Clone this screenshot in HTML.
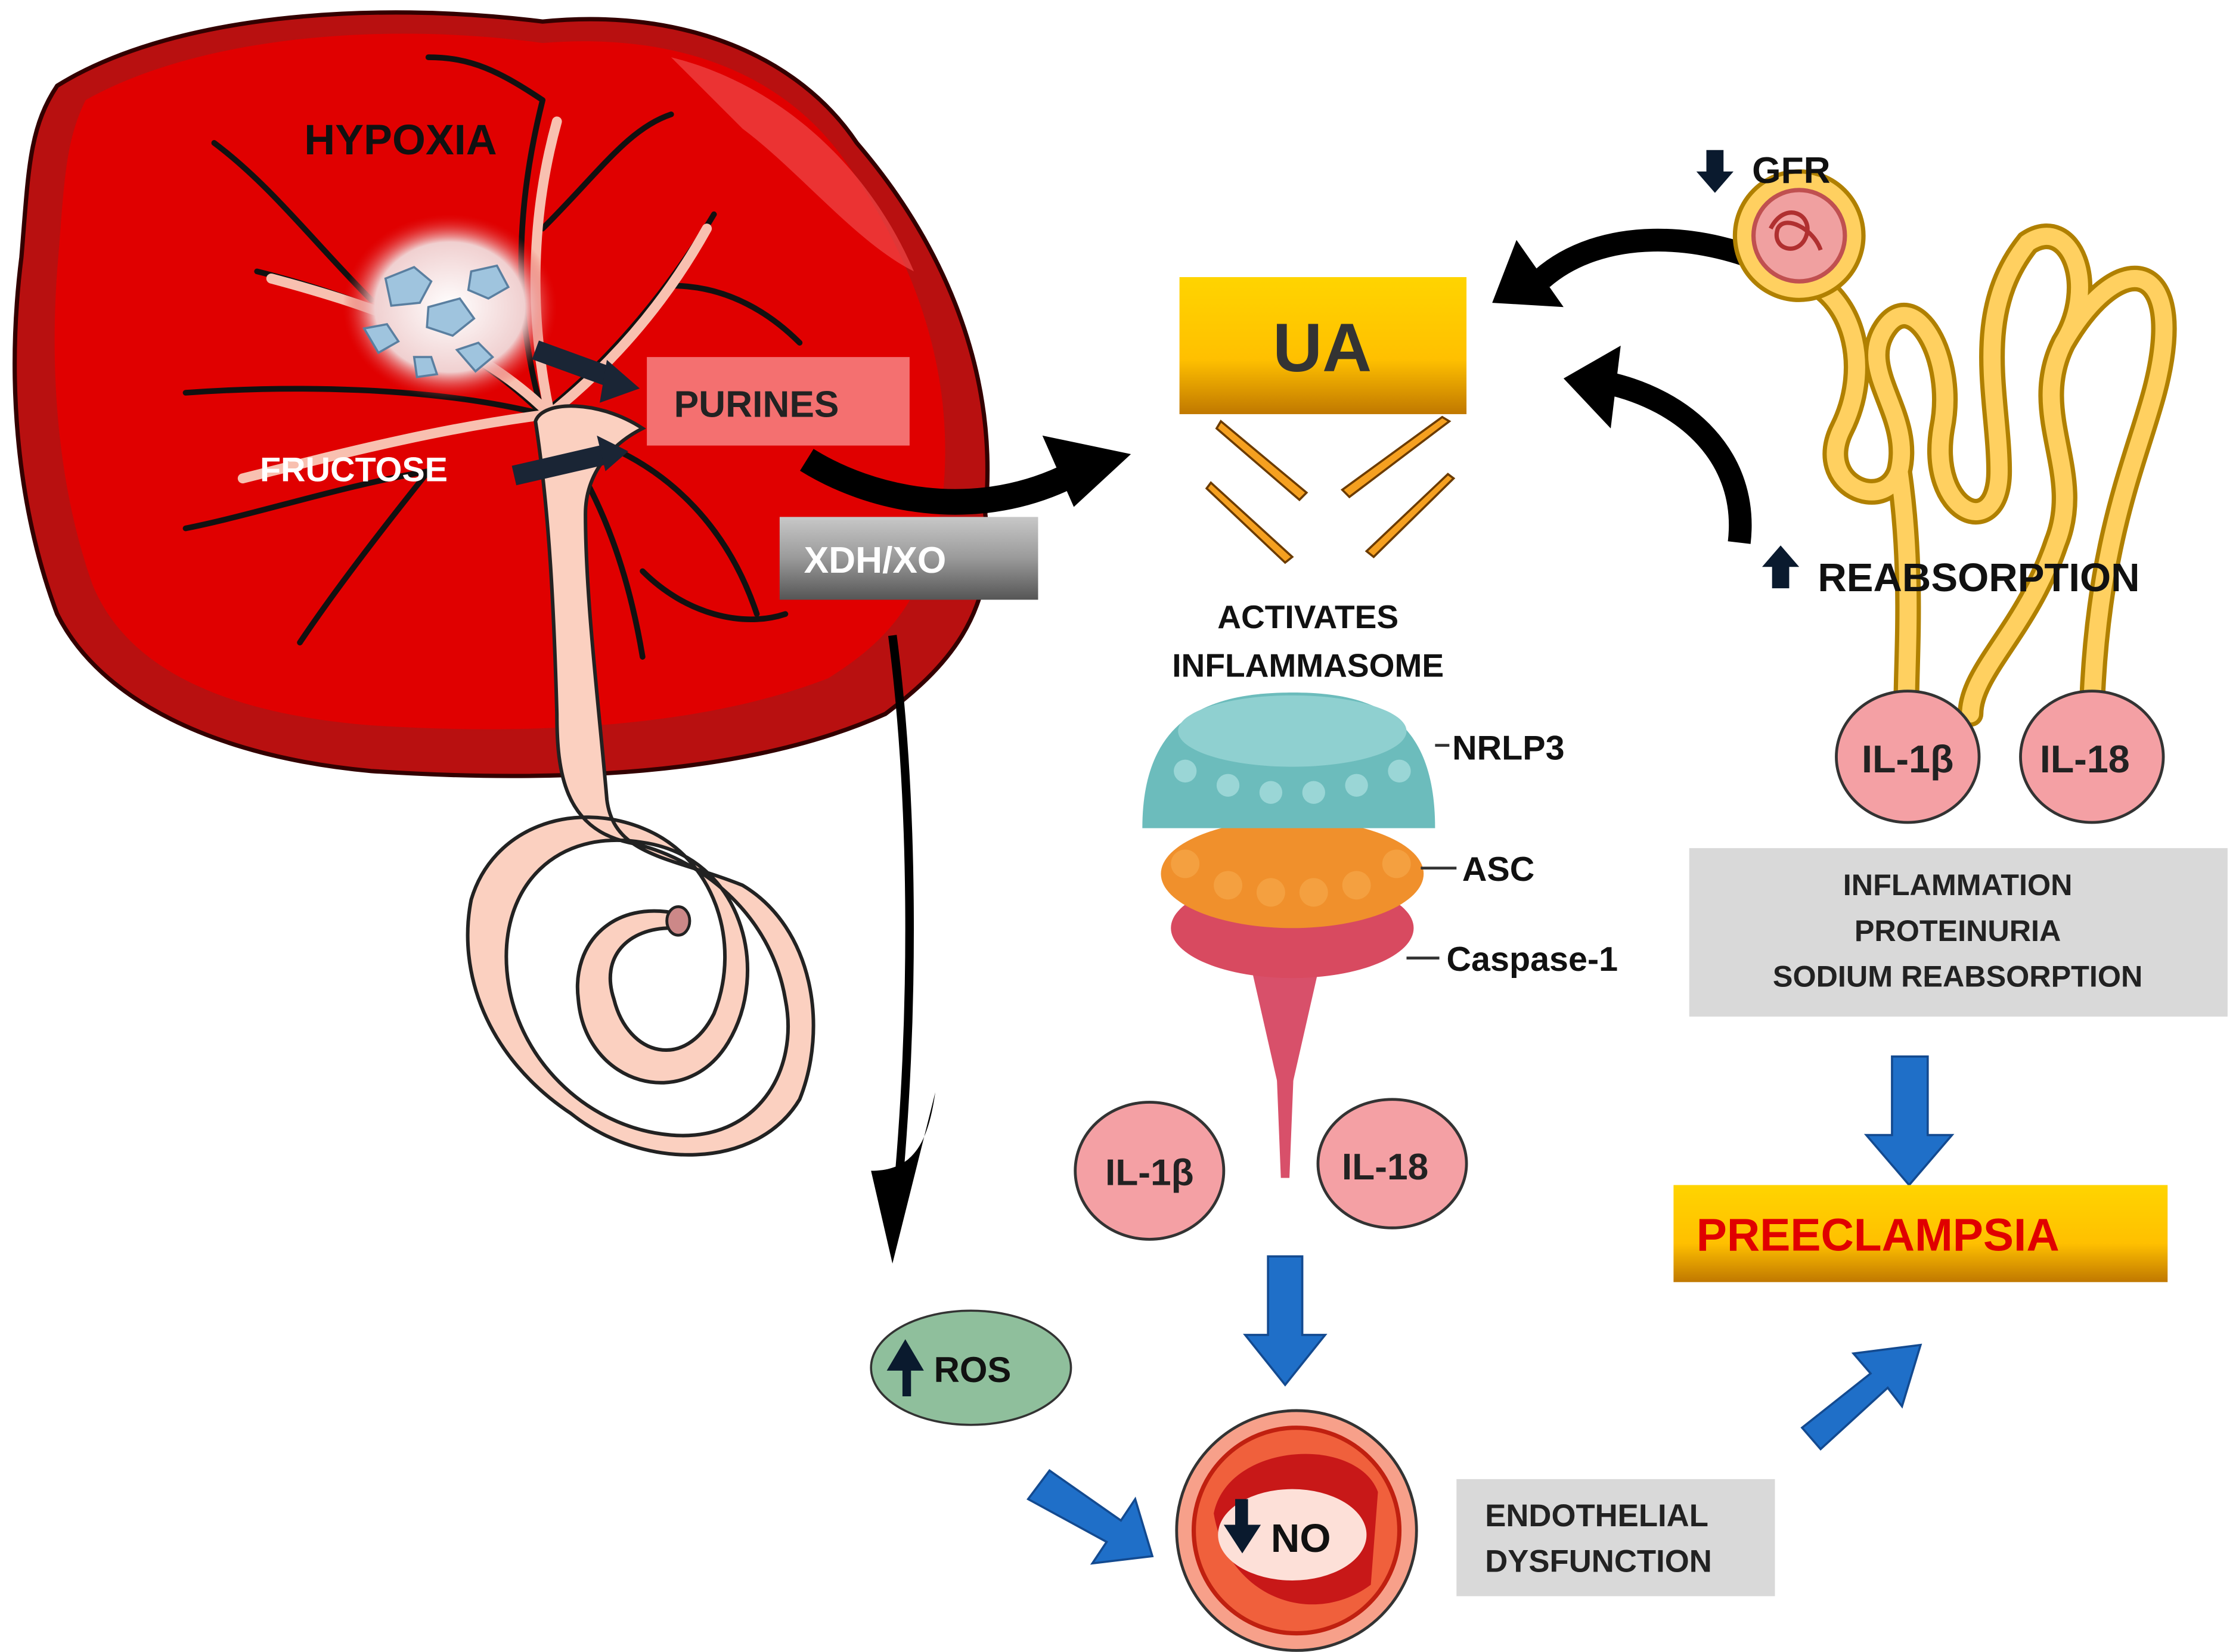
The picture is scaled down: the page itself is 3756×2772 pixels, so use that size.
<!DOCTYPE html>
<html><head><meta charset="utf-8"><style>
html,body{margin:0;padding:0;background:#fff;}
svg{display:block;}
text{font-family:"Liberation Sans",sans-serif;font-weight:bold;}
</style></head><body>
<svg width="3756" height="2772" viewBox="0 0 1568 1157" xmlns="http://www.w3.org/2000/svg">
<defs>
<linearGradient id="gy" x1="0" y1="0" x2="0" y2="1"><stop offset="0" stop-color="#ffd400"/><stop offset="0.6" stop-color="#ffc000"/><stop offset="1" stop-color="#c07800"/></linearGradient>
<linearGradient id="gg" x1="0" y1="0" x2="0" y2="1"><stop offset="0" stop-color="#c8c8c8"/><stop offset="0.5" stop-color="#9a9a9a"/><stop offset="1" stop-color="#555"/></linearGradient>
<radialGradient id="cl" cx="0.5" cy="0.5" r="0.5"><stop offset="0" stop-color="#fff"/><stop offset="0.7" stop-color="#f0d0d0"/><stop offset="1" stop-color="#e02020" stop-opacity="0"/></radialGradient>
<marker id="ah" markerWidth="4" markerHeight="4" refX="2" refY="2" orient="auto"><path d="M0,0 L4,2 L0,4 z" fill="#000"/></marker>
</defs>
<rect width="1568" height="1157" fill="#fff"/>
<!-- placenta -->
<path d="M40,60 C120,10 260,0 380,15 C480,5 560,40 600,100 C660,170 700,260 690,360 C700,430 660,470 620,500 C520,545 380,548 260,540 C150,530 70,490 40,430 C10,350 5,260 15,180 C20,120 20,90 40,60 Z" fill="#b81010" stroke="#300" stroke-width="3"/>
<path d="M60,70 C140,25 270,15 380,30 C480,22 550,55 590,110 C640,180 670,260 660,350 C650,420 620,450 580,475 C490,510 370,515 260,508 C160,500 90,470 65,410 C40,340 35,260 40,190 C45,130 45,100 60,70 Z" fill="#e00000"/>
<path d="M470,40 C550,60 610,120 640,190 C600,170 560,120 520,90 Z" fill="#f04848" opacity="0.7"/>
<!-- veins -->
<g stroke="#111" stroke-width="4" fill="none" stroke-linecap="round">
<path d="M380,290 C330,240 260,210 180,190 M260,210 C220,170 190,130 150,100 M380,290 C360,220 360,150 380,70 M380,160 C420,120 440,90 470,80 M380,290 C430,250 470,200 500,150 M470,200 C510,200 540,220 560,240 M380,290 C300,270 200,270 130,275 M300,330 C240,340 180,360 130,370 M380,290 C420,340 440,400 450,460 M450,400 C480,430 520,440 550,430 M420,310 C470,330 510,370 530,430 M300,330 C260,380 230,420 210,450 M380,70 C350,50 330,40 300,40"/>
</g>
<g stroke="#f8c0b0" stroke-width="7" fill="none" stroke-linecap="round">
<path d="M385,290 C335,240 265,215 190,195 M385,290 C370,220 372,150 390,85 M385,290 C435,250 470,205 495,160 M385,290 C305,300 230,320 170,335"/>
</g>
<ellipse cx="315" cy="215" rx="75" ry="65" fill="url(#cl)"/>
<g fill="#9fc4de" stroke="#5a7fa0" stroke-width="1.5">
<path d="M270,195 l20,-8 l12,10 l-8,15 l-20,2 z"/><path d="M300,215 l22,-6 l10,14 l-15,12 l-18,-6 z"/><path d="M330,190 l18,-4 l8,15 l-14,8 l-14,-6 z"/><path d="M255,230 l16,-3 l8,12 l-14,8 z"/><path d="M320,245 l15,-5 l10,10 l-12,10 z"/><path d="M290,250 l12,0 l4,12 l-14,2 z"/>
</g>
<!-- cord -->
<path d="M375,295 C380,280 420,280 450,300 C430,310 410,330 410,360 C410,420 420,500 425,560 C430,600 470,600 520,620 C570,650 580,720 560,770 C530,820 450,820 400,780 C340,740 320,680 330,630 C345,580 400,560 450,580 C500,600 520,660 500,710 C480,750 440,740 430,700 C420,670 440,650 470,650 L475,640 C430,630 400,660 405,700 C410,760 480,780 510,730 C540,680 520,600 450,590 C390,580 350,620 355,680 C360,740 410,790 470,795 C530,800 560,750 550,700 C540,640 490,600 440,590 C395,580 390,540 390,500 C388,430 385,360 375,295 Z" fill="#fbd0c0" stroke="#222" stroke-width="2.5"/>
<ellipse cx="475" cy="645" rx="8" ry="10" fill="#c88" stroke="#222" stroke-width="2"/>
<!-- small black arrows in placenta -->
<path d="M375,245 L430,265" stroke="#1a2535" stroke-width="14"/><path d="M425,252 L448,272 L420,282 z" fill="#1a2535"/>
<path d="M360,333 L425,318" stroke="#1a2535" stroke-width="14"/><path d="M418,305 L440,316 L424,330 z" fill="#1a2535"/>
<text x="213" y="108" font-size="30" fill="#111">HYPOXIA</text>
<rect x="453" y="250" width="184" height="62" fill="#f47070"/>
<text x="472" y="292" font-size="26" fill="#222">PURINES</text>
<text x="182" y="337" font-size="24" fill="#fff">FRUCTOSE</text>
<rect x="546" y="362" width="181" height="58" fill="url(#gg)"/>
<text x="563" y="401" font-size="26" fill="#fff">XDH/XO</text>
<!-- big black arrows -->
<path d="M565,322 C610,350 680,365 745,335" stroke="#000" stroke-width="18" fill="none"/>
<path d="M730,305 L792,318 L752,355 z" fill="#000"/>
<path d="M625,445 C640,560 640,700 630,820" stroke="#000" stroke-width="6" fill="none"/>
<path d="M610,820 L625,885 L655,765 C650,800 640,820 610,820 z" fill="#000"/>
<path d="M1250,190 C1190,160 1120,160 1080,195" stroke="#000" stroke-width="16" fill="none"/>
<path d="M1045,212 L1062,168 L1095,215 z" fill="#000"/>
<path d="M1218,380 C1225,320 1180,280 1125,268" stroke="#000" stroke-width="16" fill="none"/>
<path d="M1095,265 L1135,242 L1128,300 z" fill="#000"/>
<!-- UA -->
<rect x="826" y="194" width="201" height="96" fill="url(#gy)"/>
<text x="926" y="260" font-size="48" fill="#333" text-anchor="middle">UA</text>
<g stroke="#6b3b00" stroke-width="1.5" fill="#f5a020">
<path d="M855,295 L915,345 L910,350 L852,300 z"/><path d="M1015,295 L945,348 L940,343 L1010,292 z"/>
<path d="M848,338 L905,390 L900,394 L845,342 z"/><path d="M1018,335 L962,390 L957,386 L1014,332 z"/>
</g>
<text x="916" y="440" font-size="23" fill="#111" text-anchor="middle">ACTIVATES</text>
<text x="916" y="474" font-size="23" fill="#111" text-anchor="middle">INFLAMMASOME</text>
<!-- inflammasome -->
<path d="M890,650 L910,650 L903,825 L897,825 z" fill="#d8506a"/>
<path d="M870,650 L930,650 L905,760 L895,760 z" fill="#d8506a"/>
<ellipse cx="905" cy="650" rx="85" ry="35" fill="#d84a60"/>
<ellipse cx="905" cy="612" rx="92" ry="38" fill="#f0902c"/>
<g fill="#f4a040"><circle cx="830" cy="605" r="10"/><circle cx="860" cy="620" r="10"/><circle cx="890" cy="625" r="10"/><circle cx="920" cy="625" r="10"/><circle cx="950" cy="620" r="10"/><circle cx="978" cy="605" r="10"/></g>
<path d="M800,580 C800,500 850,485 905,485 C960,485 1005,500 1005,580 Z" fill="#6cbcbc"/>
<ellipse cx="905" cy="512" rx="80" ry="25" fill="#8fd0d0"/>
<g fill="#9ad6d6"><circle cx="830" cy="540" r="8"/><circle cx="860" cy="550" r="8"/><circle cx="890" cy="555" r="8"/><circle cx="920" cy="555" r="8"/><circle cx="950" cy="550" r="8"/><circle cx="980" cy="540" r="8"/></g>
<path d="M1005,522 L1015,522 M995,608 L1020,608 M985,671 L1008,671" stroke="#333" stroke-width="2"/>
<text x="1017" y="532" font-size="24" fill="#111">NRLP3</text>
<text x="1024" y="617" font-size="24" fill="#111">ASC</text>
<text x="1013" y="680" font-size="24" fill="#111">Caspase-1</text>
<ellipse cx="805" cy="820" rx="52" ry="48" fill="#f4a0a4" stroke="#333" stroke-width="2"/>
<text x="805" y="830" font-size="26" fill="#222" text-anchor="middle">IL-1β</text>
<ellipse cx="975" cy="815" rx="52" ry="45" fill="#f4a0a4" stroke="#333" stroke-width="2"/>
<text x="970" y="826" font-size="26" fill="#222" text-anchor="middle">IL-18</text>
<!-- blue arrows -->
<g fill="#1f6fc8" stroke="#134a90" stroke-width="1.5">
<path d="M888,880 L912,880 L912,935 L928,935 L900,970 L872,935 L888,935 z"/>
<path d="M1325,740 L1350,740 L1350,795 L1367,795 L1337,830 L1307,795 L1325,795 z"/>
<path d="M720,1050 L735,1030 L785,1065 L795,1050 L807,1090 L765,1095 L775,1080 z"/>
<path d="M1262,1000 L1310,962 L1298,948 L1345,942 L1332,985 L1322,972 L1275,1015 z"/>
</g>
<!-- ROS -->
<ellipse cx="680" cy="958" rx="70" ry="40" fill="#8fbf9c" stroke="#333" stroke-width="1.5"/>
<path d="M632,978 L632,960 L621,960 L634,938 L647,960 L638,960 L638,978 z" fill="#0a1a2e"/>
<text x="654" y="968" font-size="25" fill="#111">ROS</text>
<!-- vessel -->
<circle cx="908" cy="1072" r="84" fill="#f7a08a" stroke="#333" stroke-width="2"/>
<circle cx="908" cy="1072" r="72" fill="#f0603c" stroke="#c02010" stroke-width="3"/>
<path d="M850,1060 C860,1010 950,1005 965,1045 L960,1110 C920,1140 860,1120 850,1060z" fill="#c81818"/>
<ellipse cx="905" cy="1075" rx="52" ry="32" fill="#fde0d8"/>
<path d="M866,1088 L866,1070 L857,1070 L870,1050 L883,1070 L875,1070 L875,1088 z" fill="#0a1a2e" transform="rotate(180 870 1069)"/>
<text x="890" y="1087" font-size="28" fill="#111">NO</text>
<rect x="1020" y="1036" width="223" height="82" fill="#d9d9d9"/>
<text x="1040" y="1069" font-size="22" fill="#222" font-weight="normal">ENDOTHELIAL</text>
<text x="1040" y="1101" font-size="22" fill="#222" font-weight="normal">DYSFUNCTION</text>
<rect x="1172" y="830" width="346" height="68" fill="url(#gy)"/>
<text x="1188" y="876" font-size="32" fill="#e00000">PREECLAMPSIA</text>
<rect x="1183" y="594" width="377" height="118" fill="#d9d9d9"/>
<text x="1371" y="627" font-size="21" fill="#222" text-anchor="middle" font-weight="normal">INFLAMMATION</text>
<text x="1371" y="659" font-size="21" fill="#222" text-anchor="middle" font-weight="normal">PROTEINURIA</text>
<text x="1371" y="691" font-size="21" fill="#222" text-anchor="middle" font-weight="normal">SODIUM REABSORPTION</text>
<!-- nephron -->
<g fill="none" stroke-linecap="round">
<path d="M1265,195 C1300,210 1310,260 1290,300 C1270,340 1320,360 1330,330 C1340,290 1300,260 1320,230 C1340,200 1370,250 1360,300 C1350,360 1400,380 1400,330 C1400,280 1380,220 1420,170 C1450,150 1470,200 1445,240 C1420,290 1460,330 1440,380 C1420,440 1380,470 1380,500 M1330,330 C1340,400 1335,460 1335,495 M1445,240 C1480,180 1520,180 1515,240 C1510,300 1470,350 1465,495" stroke="#b08000" stroke-width="18"/>
<path d="M1265,195 C1300,210 1310,260 1290,300 C1270,340 1320,360 1330,330 C1340,290 1300,260 1320,230 C1340,200 1370,250 1360,300 C1350,360 1400,380 1400,330 C1400,280 1380,220 1420,170 C1450,150 1470,200 1445,240 C1420,290 1460,330 1440,380 C1420,440 1380,470 1380,500 M1330,330 C1340,400 1335,460 1335,495 M1445,240 C1480,180 1520,180 1515,240 C1510,300 1470,350 1465,495" stroke="#ffd060" stroke-width="12"/>
</g>
<circle cx="1260" cy="165" r="45" fill="#ffd060" stroke="#b08000" stroke-width="3"/>
<circle cx="1260" cy="165" r="32" fill="#f0a0a0" stroke="#c05050" stroke-width="3"/>
<path d="M1240,160 c10,-20 30,-10 25,5 c-5,15 -25,10 -20,-5 c5,-10 25,0 30,15" stroke="#b03030" stroke-width="3" fill="none"/>
<path d="M1195,105 L1195,120 L1188,120 L1201,135 L1214,120 L1207,120 L1207,105 z" fill="#0a1a2e"/>
<text x="1227" y="128" font-size="26" fill="#111">GFR</text>
<path d="M1241,412 L1241,397 L1234,397 L1247,382 L1260,397 L1253,397 L1253,412 z" fill="#0a1a2e"/>
<text x="1273" y="414" font-size="28" fill="#111" font-weight="normal">REABSORPTION</text>
<ellipse cx="1336" cy="530" rx="50" ry="46" fill="#f4a0a4" stroke="#333" stroke-width="2"/>
<text x="1336" y="541" font-size="27" fill="#222" text-anchor="middle">IL-1β</text>
<ellipse cx="1465" cy="530" rx="50" ry="46" fill="#f4a0a4" stroke="#333" stroke-width="2"/>
<text x="1460" y="541" font-size="27" fill="#222" text-anchor="middle">IL-18</text>
</svg>
</body></html>
